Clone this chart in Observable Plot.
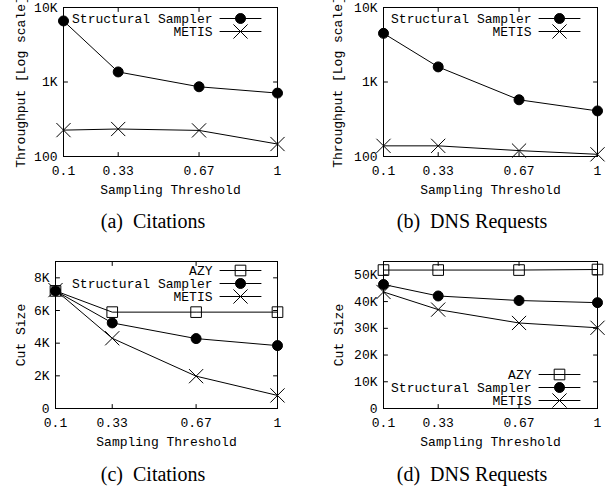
<!DOCTYPE html>
<html><head><meta charset="utf-8">
<script src="https://cdn.jsdelivr.net/npm/d3@7"></script>
<script src="https://cdn.jsdelivr.net/npm/@observablehq/plot@0.6"></script>
<style>
body{margin:0;background:#fff;}
#wrap{position:relative;width:611px;height:488px;overflow:hidden;background:#fff;}
.panel{position:absolute;}
.cap{position:absolute;font-family:"Liberation Serif","Times New Roman",serif;font-size:20px;line-height:20px;white-space:pre;transform:translateX(-50%);color:#000;}
</style></head><body><div id="wrap"></div>
<script>
// ---- data ----
const thresholds = [0.1, 0.33, 0.67, 1];
const xTickLabels = ["0.1", "0.33", "0.67", "1"];
const seriesNames = ["AZY", "Structural Sampler", "METIS"];

const citThroughputSS = [6600, 1365, 863, 710];
const citThroughputMETIS = [226, 234, 224, 147];
const dnsThroughputSS = [4500, 1595, 577, 409];
const dnsThroughputMETIS = [139, 139, 120, 107];

const citCutAZY = [7200, 5900, 5900, 5900];
const citCutSS = [7200, 5240, 4280, 3850];
const citCutMETIS = [7250, 4300, 1980, 800];
const dnsCutAZY = [51800, 51800, 51800, 52000];
const dnsCutSS = [46400, 42100, 40400, 39600];
const dnsCutMETIS = [43600, 37000, 32000, 30200];

const logTicks = [100, 1000, 10000];
const logTickLabels = ["100", "1K", "10K"];
const citCutTicks = [0, 2000, 4000, 6000, 8000];
const citCutTickLabels = ["0", "2K", "4K", "6K", "8K"];
const dnsCutTicks = [0, 10000, 20000, 30000, 40000, 50000];
const dnsCutTickLabels = ["0", "10K", "20K", "30K", "40K", "50K"];

const captions = ["(a)  Citations", "(b)  DNS Requests", "(c)  Citations", "(d)  DNS Requests"];

// ---- helpers ----
const symbolStyle = {
  "AZY": {symbol: "square", fill: "none", stroke: "black", r: 6},
  "Structural Sampler": {symbol: "circle", fill: "black", stroke: "black", r: 5},
  "METIS": {symbol: "times", fill: "none", stroke: "black", r: 6.5}
};
const tickShape = {draw(ctx, l) { ctx.moveTo(0, 0); ctx.lineTo(0, -l); }};

function panel(o) {
  const marks = [];
  const series = o.series.map(s => ({name: s.name, rows: thresholds.map((t, i) => ({t, v: s.values[i]}))}));
  // frame and inward ticks (gnuplot style, mirrored)
  marks.push(Plot.frame({stroke: "black", strokeWidth: 1}));
  const tk = {length: 4, anchor: "start", shape: tickShape, stroke: "black", strokeWidth: 1};
  marks.push(Plot.vector(thresholds, {x: d => d, frameAnchor: "bottom", rotate: 0, ...tk}));
  marks.push(Plot.vector(thresholds, {x: d => d, frameAnchor: "top", rotate: 180, ...tk}));
  marks.push(Plot.vector(o.yTicks, {y: d => d, frameAnchor: "left", rotate: 90, ...tk}));
  marks.push(Plot.vector(o.yTicks, {y: d => d, frameAnchor: "right", rotate: -90, ...tk}));
  marks.push(Plot.axisX(thresholds, {tickSize: 0, tickPadding: 9, label: null,
    tickFormat: d => xTickLabels[thresholds.indexOf(d)]}));
  marks.push(Plot.axisY(o.yTicks, {tickSize: 0, tickPadding: 6, label: null,
    tickFormat: d => o.yTickLabels[o.yTicks.indexOf(d)]}));
  marks.push(Plot.text([o.yLabel], {frameAnchor: "left", dx: o.yLabelDx, rotate: -90,
    textAnchor: "middle", lineAnchor: "middle", fill: "black"}));
  marks.push(Plot.text(["Sampling Threshold"], {frameAnchor: "bottom", dy: 33,
    textAnchor: "middle", lineAnchor: "middle", fill: "black"}));
  // data
  for (const s of series) {
    const st = symbolStyle[s.name];
    marks.push(Plot.line(s.rows, {x: "t", y: "v", stroke: "black", strokeWidth: 1}));
    marks.push(Plot.dot(s.rows, {x: "t", y: "v", symbol: st.symbol, fill: st.fill, stroke: st.stroke, r: st.r, strokeWidth: 1}));
  }
  // legend
  const fa = o.legendAnchor;
  o.series.forEach((s, k) => {
    const st = symbolStyle[s.name];
    const dy = o.legendRows[k];
    marks.push(Plot.text([s.name], {frameAnchor: fa, dx: o.legendTextDx, dy, textAnchor: "end", lineAnchor: "middle", fill: "black"}));
    marks.push(Plot.vector([s.name], {frameAnchor: fa, dx: o.legendLineDx, dy, length: 41, rotate: 90, anchor: "middle", shape: tickShape, stroke: "black", strokeWidth: 1}));
    marks.push(Plot.dot([s.name], {frameAnchor: fa, dx: o.legendLineDx, dy, symbol: st.symbol, fill: st.fill, stroke: st.stroke, r: st.r, strokeWidth: 1}));
  });
  const svg = Plot.plot({
    width: o.width, height: o.height,
    marginLeft: o.mL, marginRight: o.mR, marginTop: o.mT, marginBottom: o.mB,
    style: {fontFamily: "'Liberation Mono', 'Courier New', monospace", fontSize: "13px", background: "transparent", color: "black"},
    x: {domain: [0.1, 1]},
    y: o.yType === "log" ? {type: "log", domain: o.yDomain} : {domain: o.yDomain},
    marks
  });
  svg.classList.add("panel");
  svg.style.left = o.left + "px";
  svg.style.top = o.top + "px";
  return svg;
}

const wrap = document.getElementById("wrap");
wrap.appendChild(panel({
  left: 0, top: 0, width: 300, height: 240, mL: 63, mR: 23, mT: 7, mB: 84,
  yType: "log", yDomain: [100, 10000], yTicks: logTicks, yTickLabels: logTickLabels,
  yLabel: "Throughput [Log scale]", yLabelDx: -43,
  series: [{name: seriesNames[1], values: citThroughputSS}, {name: seriesNames[2], values: citThroughputMETIS}],
  legendAnchor: "top-right", legendRows: [11, 24], legendTextDx: -65, legendLineDx: -37
}));
wrap.appendChild(panel({
  left: 300, top: 0, width: 311, height: 240, mL: 83, mR: 14, mT: 7, mB: 84,
  yType: "log", yDomain: [100, 10000], yTicks: logTicks, yTickLabels: logTickLabels,
  yLabel: "Throughput [Log scale]", yLabelDx: -46,
  series: [{name: seriesNames[1], values: dnsThroughputSS}, {name: seriesNames[2], values: dnsThroughputMETIS}],
  legendAnchor: "top-right", legendRows: [11, 24], legendTextDx: -66, legendLineDx: -38
}));
wrap.appendChild(panel({
  left: 0, top: 240, width: 300, height: 248, mL: 55, mR: 23, mT: 21, mB: 80,
  yType: "linear", yDomain: [0, 9000], yTicks: citCutTicks, yTickLabels: citCutTickLabels,
  yLabel: "Cut Size", yLabelDx: -35,
  series: [{name: seriesNames[0], values: citCutAZY}, {name: seriesNames[1], values: citCutSS}, {name: seriesNames[2], values: citCutMETIS}],
  legendAnchor: "top-right", legendRows: [9, 22, 35], legendTextDx: -65, legendLineDx: -37
}));
wrap.appendChild(panel({
  left: 300, top: 240, width: 311, height: 248, mL: 83, mR: 14, mT: 21, mB: 80,
  yType: "linear", yDomain: [0, 55000], yTicks: dnsCutTicks, yTickLabels: dnsCutTickLabels,
  yLabel: "Cut Size", yLabelDx: -45,
  series: [{name: seriesNames[0], values: dnsCutAZY}, {name: seriesNames[1], values: dnsCutSS}, {name: seriesNames[2], values: dnsCutMETIS}],
  legendAnchor: "bottom-right", legendRows: [-34, -21, -8], legendTextDx: -66, legendLineDx: -38
}));

const capPos = [[153, 211], [472, 211], [153, 464], [472, 464]];
captions.forEach((c, i) => {
  const d = document.createElement("div");
  d.className = "cap";
  d.textContent = c;
  d.style.left = capPos[i][0] + "px";
  d.style.top = capPos[i][1] + "px";
  wrap.appendChild(d);
});
</script></body></html>
